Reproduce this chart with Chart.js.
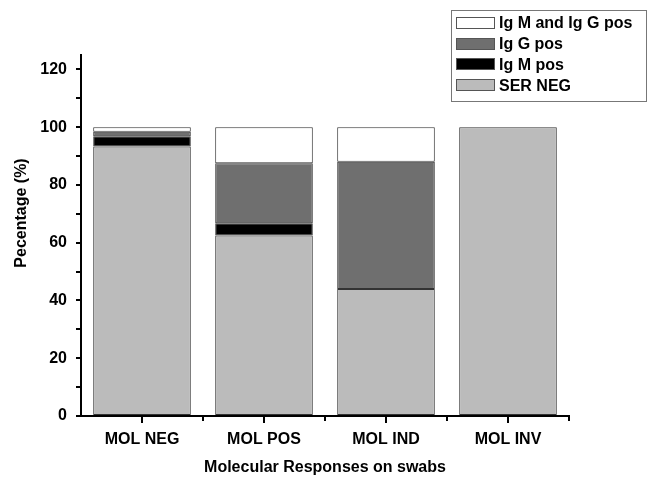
<!DOCTYPE html>
<html>
<head>
<meta charset="utf-8">
<script src="https://cdn.jsdelivr.net/npm/chart.js@4"></script>
<style>
  html, body { margin: 0; padding: 0; background: #fff; }
  canvas { display: block; }
</style>
</head>
<body>
<canvas id="c" width="648" height="477"></canvas>
<script>
const categories = ["MOL NEG", "MOL POS", "MOL IND", "MOL INV"];
const serNeg   = [93.3, 62.5, 44, 100];
const igmPos   = [3.6, 4.2, 0, 0];
const iggPos   = [1.5, 20.8, 44, 0];
const igmIggPos = [1.6, 12.5, 12, 0];
const yTicks = [0, 20, 40, 60, 80, 100, 120];

const FONT = '"Liberation Sans", Arial, sans-serif';

// legend box + axis titles + minor x ticks, drawn on top
const extras = {
    id: 'extras',
    afterDraw(chart) {
        const c = chart.ctx;
        c.save();
        // minor x ticks between categories
        const xs = chart.scales.x, bottom = chart.chartArea.bottom;
        c.strokeStyle = '#000'; c.lineWidth = 2;
        for (let i = 0; i < categories.length; i++) {
            const px = Math.round((xs.getPixelForValue(i) + xs.getPixelForValue(i + 1)) / 2);
            c.beginPath(); c.moveTo(px, bottom); c.lineTo(px, bottom + 5); c.stroke();
        }
        // y title
        c.fillStyle = '#000';
        c.font = 'bold 16px ' + FONT;
        c.textAlign = 'center'; c.textBaseline = 'middle';
        c.translate(22, 213); c.rotate(-Math.PI / 2);
        c.fillText('Pecentage (%)', 0, 0);
        c.setTransform(1, 0, 0, 1, 0, 0);
        // legend
        c.strokeStyle = '#777'; c.lineWidth = 1;
        c.strokeRect(451.5, 10.5, 195, 91);
        const items = chart.data.datasets.slice().reverse();
        items.forEach((ds, i) => {
            const y = 23 + i * 20.7;
            c.fillStyle = ds.backgroundColor;
            c.fillRect(456, Math.round(y - 6), 39, 12);
            c.strokeStyle = '#555';
            c.strokeRect(456.5, Math.round(y - 6) + 0.5, 38, 11);
            c.fillStyle = '#000';
            c.textAlign = 'left'; c.textBaseline = 'middle';
            c.fillText(ds.label, 499, y + 1);
        });
        c.restore();
    }
};

new Chart(document.getElementById('c'), {
    type: 'bar',
    plugins: [extras],
    data: {
        labels: categories,
        datasets: [
            { label: 'SER NEG', data: serNeg, backgroundColor: '#bbbbbb' },
            { label: 'Ig M pos', data: igmPos, backgroundColor: '#000000' },
            { label: 'Ig G pos', data: iggPos, backgroundColor: '#6f6f6f' },
            { label: 'Ig M and Ig G pos', data: igmIggPos, backgroundColor: '#ffffff' }
        ].map(d => Object.assign(d, {
            borderColor: '#333', borderWidth: 1, borderSkipped: false,
            barPercentage: 0.8, categoryPercentage: 1
        }))
    },
    options: {
        responsive: false,
        animation: false,
        layout: { padding: { left: 0, top: 55, right: 79, bottom: 0 } },
        plugins: { legend: { display: false }, tooltip: { enabled: false } },
        scales: {
            x: {
                stacked: true,
                afterFit: s => { s.height = 61; },
                grid: { drawOnChartArea: false, offset: false, color: '#000', lineWidth: 2, tickLength: 7 },
                border: { color: '#000', width: 2 },
                ticks: { color: '#000', padding: 7, font: { family: FONT, size: 16, weight: 'bold' } },
                title: { display: true, text: 'Molecular Responses on swabs', color: '#000',
                         padding: { top: 7, bottom: 0 }, font: { family: FONT, size: 16, weight: 'bold' } }
            },
            y: {
                stacked: true,
                min: 0, max: 125,
                afterFit: s => { s.width = 81; },
                grid: { drawOnChartArea: false, color: '#000', lineWidth: 2, tickLength: 5 },
                border: { color: '#000', width: 2 },
                ticks: {
                    stepSize: 10, includeBounds: false, autoSkip: false,
                    color: '#000', padding: 9,
                    font: { family: FONT, size: 16, weight: 'bold' },
                    callback: v => yTicks.includes(v) ? String(v) : ''
                }
            }
        }
    }
});
</script>
</body>
</html>
